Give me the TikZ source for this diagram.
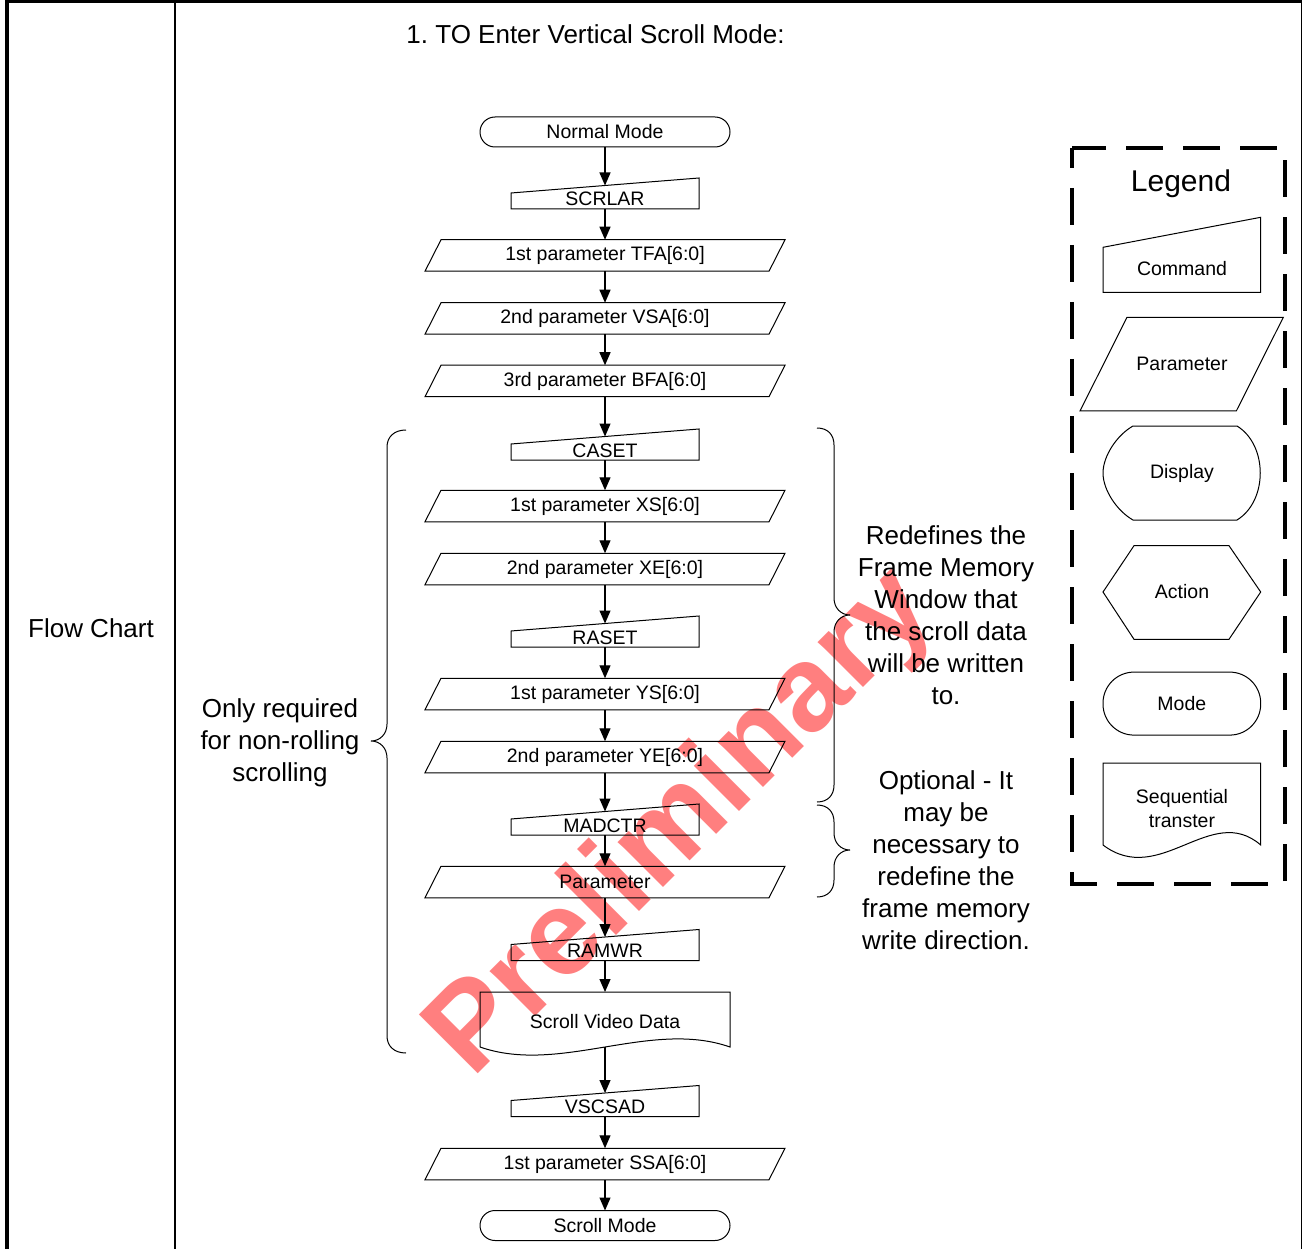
\documentclass[tikz,border=0pt]{standalone}
\usepackage{fontspec}
\setmainfont{Liberation Sans}
\usetikzlibrary{arrows.meta}
\frenchspacing
\newcommand\fsz[2]{\fontsize{#1}{#2}\selectfont}
\newcommand\cmdoutline[2][16pt]{\draw[shapeline] (#2.south west) -- ([yshift=#1]#2.south west) -- (#2.north east) -- (#2.south east) -- cycle;}
\newcommand\paroutline[2][16pt]{\draw[shapeline] (#2.south west) -- ([xshift=#1]#2.north west) -- (#2.north east) -- ([xshift=-#1]#2.south east) -- cycle;}
\begin{document}
\begin{tikzpicture}[x=1pt,y=-1pt,
  shapeline/.style={line width=1pt, line join=miter},
  frame/.style={draw=none, inner sep=0pt, outer sep=0pt},
  cmdbox/.style={frame, minimum width=188pt, minimum height=31pt},
  parbox/.style={frame, minimum width=360pt, minimum height=31.5pt, font=\fsz{19.5}{22}},
  modebox/.style={draw, shapeline, rounded corners=15pt, minimum width=250pt, minimum height=30pt, inner sep=0pt, outer sep=0pt, font=\fsz{19.5}{22}},
  lbl/.style={font=\fsz{19.5}{24}, inner sep=0pt, align=center},
  cmdlbl/.style={font=\fsz{19.5}{22}, inner sep=0pt, anchor=base},
  arr/.style={line width=1.3pt, -{Triangle[length=13pt,width=11pt]}},
  big/.style={font=\fsz{26}{32}, align=center, inner sep=0pt},
  brace/.style={line width=1pt},
]
\useasboundingbox (0,0) rectangle (1302,1249);

% watermark (behind everything)
\node[rotate=45, text=red, opacity=0.5, font=\bfseries\fsz{121}{121}, inner sep=0pt] (wm) at (683,824) {Preliminary};

% table frame
\draw[line width=3pt] (5,1.5) -- (1302,1.5);
\draw[line width=4pt] (7,0) -- (7,1249);
\draw[line width=2pt] (175,0) -- (175,1249);
\draw[line width=1.5pt] (1301.25,0) -- (1301.25,1249);

\node[big] (flowchart) at (91,628) {Flow Chart};
\node[big] (title) at (595.5,34) {1. TO Enter Vertical Scroll Mode:};

% flow nodes
\node[modebox] (normal) at (605,132) {Normal Mode};
\node[cmdbox] (scrlar) at (605,193.5) {};
\node[parbox] (tfa) at (605,255.5) {1st parameter TFA[6:0]};
\node[parbox] (vsa) at (605,318.5) {2nd parameter VSA[6:0]};
\node[parbox] (bfa) at (605,381) {3rd parameter BFA[6:0]};
\node[cmdbox] (caset) at (605,444.5) {};
\node[parbox] (xs) at (605,506) {1st parameter XS[6:0]};
\node[parbox] (xe) at (605,569) {2nd parameter XE[6:0]};
\node[cmdbox] (raset) at (605,631.5) {};
\node[parbox] (ys) at (605,694) {1st parameter YS[6:0]};
\node[parbox] (ye) at (605,757) {2nd parameter YE[6:0]};
\node[cmdbox] (madctr) at (605,819.5) {};
\node[parbox] (param) at (605,882) {Parameter};
\node[cmdbox] (ramwr) at (605,945) {};
\node[frame, minimum width=250pt, minimum height=55pt] (svd) at (605,1019.5) {};
\node[lbl] (svdT) at (605,1022) {Scroll Video Data};
\node[cmdbox] (vscsad) at (605,1101) {};
\node[parbox] (ssa) at (605,1164) {1st parameter SSA[6:0]};
\node[modebox] (scroll) at (605,1225.5) {Scroll Mode};

% command labels
\node[cmdlbl] (scrlarT) at ([yshift=3pt]scrlar.south) {SCRLAR};
\node[cmdlbl] (casetT) at ([yshift=3pt]caset.south) {CASET};
\node[cmdlbl] (rasetT) at ([yshift=3pt]raset.south) {RASET};
\node[cmdlbl] (madctrT) at ([yshift=3pt]madctr.south) {MADCTR};
\node[cmdlbl] (ramwrT) at ([yshift=3pt]ramwr.south) {RAMWR};
\node[cmdlbl] (vscsadT) at ([yshift=3pt]vscsad.south) {VSCSAD};

% outlines
\foreach \n in {scrlar,caset,raset,madctr,ramwr,vscsad} {\cmdoutline{\n}}
\foreach \n in {tfa,vsa,bfa,xs,xe,ys,ye,param,ssa} {\paroutline{\n}}
\draw[shapeline] (svd.south west) -- (svd.north west) -- (svd.north east) -- (svd.south east)
  .. controls (650,1019) and (560,1075) .. (svd.south west);

% connectors
\draw[arr] (normal.south) -- ([yshift=-7.5pt]scrlar.north);
\draw[arr] (scrlar.south) -- (tfa.north);
\draw[arr] (tfa.south) -- (vsa.north);
\draw[arr] (vsa.south) -- (bfa.north);
\draw[arr] (bfa.south) -- ([yshift=-7.5pt]caset.north);
\draw[arr] (caset.south) -- (xs.north);
\draw[arr] (xs.south) -- (xe.north);
\draw[arr] (xe.south) -- ([yshift=-7.5pt]raset.north);
\draw[arr] (raset.south) -- (ys.north);
\draw[arr] (ys.south) -- (ye.north);
\draw[arr] (ye.south) -- ([yshift=-7.5pt]madctr.north);
\draw[arr] (madctr.south) -- (param.north);
\draw[arr] (param.south) -- ([yshift=-7.5pt]ramwr.north);
\draw[arr] (ramwr.south) -- (svd.north);
\draw[arr] (svd.south) -- ([yshift=-7.5pt]vscsad.north);
\draw[arr] (vscsad.south) -- (ssa.north);
\draw[arr] (ssa.south) -- (scroll.north);

% braces
\draw[brace] (406,430) .. controls (394,430) and (387,437) .. (387,447) -- (387,724)
  .. controls (387,734) and (380,741) .. (371,741) .. controls (380,741) and (387,748) .. (387,758)
  -- (387,1036) .. controls (387,1046) and (394,1053) .. (406,1053);
\draw[brace] (817,428) .. controls (828,428) and (834,435) .. (834,445) -- (834,598)
  .. controls (834,608) and (841,615) .. (850,615) .. controls (841,615) and (834,622) .. (834,632)
  -- (834,785) .. controls (834,795) and (828,802) .. (817,802);
\draw[brace] (817,805) .. controls (828,805) and (834,812) .. (834,822) -- (834,833)
  .. controls (834,843) and (841,850) .. (850,850) .. controls (841,850) and (834,857) .. (834,867)
  -- (834,880) .. controls (834,890) and (828,897) .. (817,897);

\node[big] (only) at (280,743) {Only required\\for non-rolling\\scrolling};
\node[big] (redef) at (946,615) {Redefines the\\Frame Memory\\Window that\\the scroll data\\will be written\\to.};
\node[big] (opt) at (946,860) {Optional - It\\may be\\necessary to\\redefine the\\frame memory\\write direction.};

% legend
\draw[line width=4pt, dash pattern=on 37pt off 20pt, dash phase=17pt] (1072,148) rectangle (1285,884);
\node[font=\fsz{30}{36}, inner sep=0pt] (legendT) at (1181,184) {Legend};
\node[frame, minimum width=157.7pt, minimum height=75pt] (lcmd) at (1181.85,254.8) {};
\cmdoutline[45pt]{lcmd}
\node[lbl] (lcmdT) at (1182,269) {Command};
\node[frame, minimum width=203.3pt, minimum height=93.7pt] (lpar) at (1181.65,364.15) {};
\paroutline[47pt]{lpar}
\node[lbl] (lparT) at (1182,364) {Parameter};
\draw[shapeline] (1133,426) -- (1237,426) .. controls (1268,445) and (1268,501) .. (1237,520) -- (1133,520)
  .. controls (1117,511) and (1103,490) .. (1103,473) .. controls (1103,456) and (1117,435) .. (1133,426) -- cycle;
\node[lbl] (ldispT) at (1182,473) {Display};
\draw[shapeline] (1134,545.7) -- (1229,545.7) -- (1260.7,592) -- (1229,639.3) -- (1134,639.3) -- (1103,592) -- cycle;
\node[lbl] (lactT) at (1182,592) {Action};
\node[modebox, rounded corners=31pt, minimum width=157.7pt, minimum height=63pt] (lmode) at (1181.85,703.6) {Mode};
\draw[shapeline] (1103,845) -- (1103,763) -- (1260.7,763) -- (1260.7,845) .. controls (1211,802) and (1160,888) .. (1103,845);
\node[lbl] (lseqT) at (1182,809) {Sequential\\transter};
\end{tikzpicture}
\end{document}
